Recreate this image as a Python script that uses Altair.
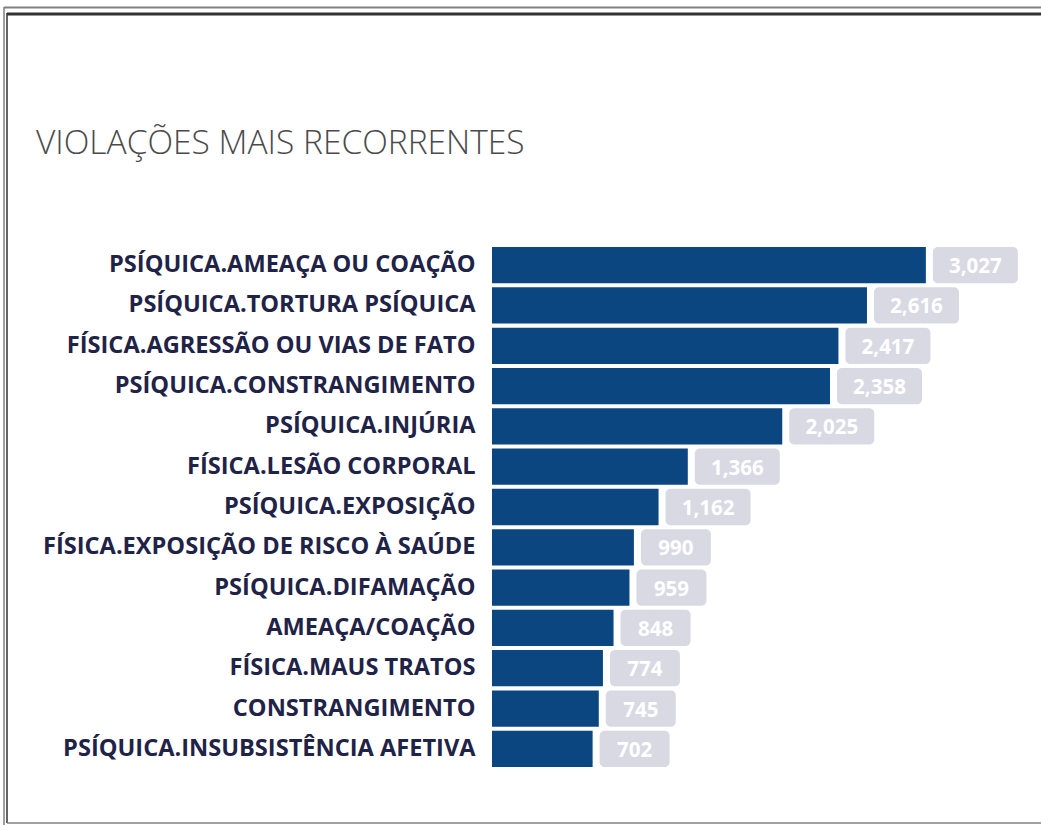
import altair as alt
import pandas as pd

categories = [
    "PSÍQUICA.AMEAÇA OU COAÇÃO",
    "PSÍQUICA.TORTURA PSÍQUICA",
    "FÍSICA.AGRESSÃO OU VIAS DE FATO",
    "PSÍQUICA.CONSTRANGIMENTO",
    "PSÍQUICA.INJÚRIA",
    "FÍSICA.LESÃO CORPORAL",
    "PSÍQUICA.EXPOSIÇÃO",
    "FÍSICA.EXPOSIÇÃO DE RISCO À SAÚDE",
    "PSÍQUICA.DIFAMAÇÃO",
    "AMEAÇA/COAÇÃO",
    "FÍSICA.MAUS TRATOS",
    "CONSTRANGIMENTO",
    "PSÍQUICA.INSUBSISTÊNCIA AFETIVA",
]
values = [3027, 2616, 2417, 2358, 2025, 1366, 1162, 990, 959, 848, 774, 745, 702]
title_text = ["VIOLAÇÕES MAIS RECORRENTES"]

df = pd.DataFrame({"categoria": categories, "valor": values})
df_title = pd.DataFrame({"t": title_text})

BAR = "#0b4680"
BOX = "#d9d9e3"
LABEL = "#1f2347"

# plot-area origin in page pixels
OX, OY = 492, 245
W, H = 516, 524

y_enc = alt.Y(
    "categoria:N",
    sort=categories,
    scale=alt.Scale(paddingInner=0.1, paddingOuter=0.05),
    axis=alt.Axis(
        title=None, domain=False, ticks=False, grid=False,
        labelFont="Open Sans", labelFontWeight="bold", labelFontSize=23.6,
        labelColor=LABEL, labelPadding=17, labelLimit=480,
    ),
)
x_scale = alt.Scale(domain=[0, 3600], nice=False)
x_enc = alt.X("valor:Q", scale=x_scale, axis=None)

base = alt.Chart(df)

bars = base.mark_bar(color=BAR).encode(y=y_enc, x=x_enc)

big = base.transform_filter("datum.valor >= 1000")
small = base.transform_filter("datum.valor < 1000")

box_big = big.mark_rect(color=BOX, xOffset=7, x2Offset=92, cornerRadius=5).encode(
    y=y_enc, x=x_enc, x2=alt.X2("valor:Q"))
box_small = small.mark_rect(color=BOX, xOffset=7, x2Offset=77, cornerRadius=5).encode(
    y=y_enc, x=x_enc, x2=alt.X2("valor:Q"))

txt_kw = dict(color="white", font="Open Sans", fontWeight="bold", fontSize=20.5,
              align="center", baseline="middle")
text_big = big.mark_text(dx=49.5, dy=2, **txt_kw).encode(
    y=y_enc, x=x_enc, text=alt.Text("valor:Q", format=",d"))
text_small = small.mark_text(dx=42, dy=2, **txt_kw).encode(
    y=y_enc, x=x_enc, text=alt.Text("valor:Q", format=",d"))

title = alt.Chart(df_title).mark_text(
    font="Open Sans", fontWeight=300, fontSize=33.5, color="#4a4a4a",
    align="left", baseline="alphabetic",
).encode(x=alt.value(36 - OX), y=alt.value(154 - OY), text="t:N")

def rule(x1, x2, y1, y2, color, width):
    return alt.Chart(df_title).mark_rule(color=color, strokeWidth=width).encode(
        x=alt.value(x1 - OX), x2=alt.value(x2 - OX),
        y=alt.value(y1 - OY), y2=alt.value(y2 - OY),
    )

frame = [
    rule(4, 1041, 7.5, 7.5, "#808080", 2),
    rule(4, 4, 7, 825, "#808080", 1.5),
    rule(7, 1041, 14, 14, "#333333", 3),
    rule(7, 7, 13, 823, "#333333", 1.5),
    rule(7, 1041, 823, 823, "#808080", 1.5),
]

chart = alt.layer(
    bars, box_big, box_small, text_big, text_small, title, *frame
).properties(
    width=W, height=H,
    autosize=alt.AutoSizeParams(type="none"),
    padding={"left": OX, "top": OY, "right": 1041 - OX - W, "bottom": 825 - OY - H},
    background="white",
).configure_view(stroke=None)

chart.save("out.html", embed_options={"renderer": "svg", "actions": False})
